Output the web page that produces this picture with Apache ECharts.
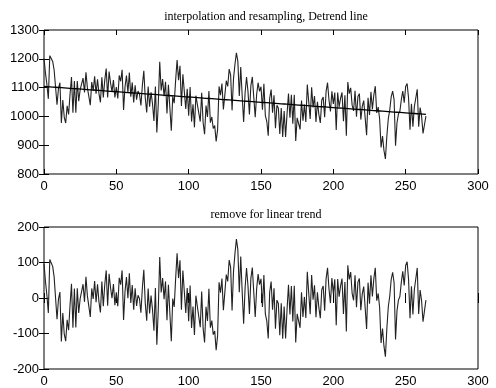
<!DOCTYPE html>
<html>
<head>
<meta charset="utf-8">
<script src="https://cdn.jsdelivr.net/npm/echarts@6/dist/echarts.min.js"></script>
<style>
  html, body { margin: 0; padding: 0; background: #fff; }
  #main { width: 496px; height: 388px; }
</style>
</head>
<body>
<div id="main"></div>
<script>
// resampled signal, one value per sample (x = 0..264)
const rawValues = [
  1201,1151,1111,1061,1211,1201,1191,1161,1101,1041,
  1097,1117,977,1057,997,977,1037,1007,1077,1137,
  1013,1123,1013,1123,1053,1093,1113,1133,1083,1153,
  1099,1069,1039,1119,1089,1139,1079,1129,1079,1049,
  1136,1066,1126,1166,1066,1156,1116,1086,1126,1066,
  1102,1062,1142,1122,1162,1022,1102,1142,1082,1152,
  1068,1118,1048,1108,1058,1088,1078,1038,1108,1158,
  1064,1014,1104,1034,1084,1044,984,1104,944,1044,
  1190,1090,1130,1070,1120,1010,1110,1030,950,1070,
  1046,1126,1196,1126,1176,1036,1146,1086,1026,1096,
  1002,1102,982,1042,962,1072,1042,1042,982,1082,
  978,938,1038,998,1088,978,998,958,968,913,
  954,1104,1074,1114,1024,1074,1124,1104,1164,1144,
  1021,1131,1181,1221,1191,1071,1171,1071,981,1081,
  1137,1087,1007,1107,1137,1067,997,1077,1117,1087,
  1103,1023,1113,1003,983,933,1063,1093,1013,1073,
  959,1039,1029,939,1029,929,1019,929,1009,1079,
  995,1075,975,1075,915,995,975,955,1055,985,
  1041,981,1111,1051,991,1101,1031,1071,981,1051,
  1007,977,1057,1067,997,1087,1117,1057,1017,1087,
  1043,1083,953,1083,1033,1063,1083,983,1073,933,
  1119,1079,1099,1039,1019,1089,999,1069,1079,989,
  1035,1055,995,935,1065,1005,1085,1025,1075,1105,
  1012,1032,992,892,932,882,852,932,992,1022,
  1068,1088,1058,898,978,1008,1018,1058,1088,1048,
  1104,1114,1064,954,1044,964,1034,1064,1094,964,
  1031,1001,941,971,1001
];

const titles = ['interpolation and resampling, Detrend line', 'remove for linear trend'];
const xTicks = [0, 300, 50];
const topTicks = [800, 1300, 100];
const bottomTicks = [-200, 200, 100];

// least squares line, as matlab's detrend does
function linearFit(ys) {
  let n = ys.length, sx = 0, sy = 0, sxx = 0, sxy = 0;
  for (let i = 0; i < n; i++) {
    sx += i; sy += ys[i]; sxx += i * i; sxy += i * ys[i];
  }
  let b = (n * sxy - sx * sy) / (n * sxx - sx * sx);
  let a = (sy - b * sx) / n;
  return ys.map(function (v, i) { return a + b * i; });
}

const trend = linearFit(rawValues);
const rawPts = rawValues.map(function (v, i) { return [i, v]; });
const trendPts = trend.map(function (v, i) { return [i, v]; });
const detrendPts = rawValues.map(function (v, i) { return [i, v - trend[i]]; });

const font = 'Liberation Sans';
const tick = { show: true, inside: true, length: 5, lineStyle: { color: '#000' } };
const plain = function (v) { return String(v); };

function xAx(grid, pos, labels) {
  return {
    type: 'value', gridIndex: grid, position: pos,
    min: xTicks[0], max: xTicks[1], interval: xTicks[2],
    axisLine: { show: false }, splitLine: { show: false },
    axisTick: tick,
    axisLabel: { show: labels, color: '#000', fontFamily: font, fontSize: 13, margin: 6, formatter: plain }
  };
}
function yAx(grid, pos, t, labels) {
  return {
    type: 'value', gridIndex: grid, position: pos,
    min: t[0], max: t[1], interval: t[2],
    axisLine: { show: false }, splitLine: { show: false },
    axisTick: tick,
    axisLabel: { show: labels, color: '#000', fontFamily: font, fontSize: 13, margin: 5, formatter: plain }
  };
}

let chart = echarts.init(document.getElementById('main'));
let option = {
  backgroundColor: '#fff',
  animation: false,
  title: [
    { text: titles[0], left: 261, top: 6, textAlign: 'center',
      textStyle: { fontFamily: 'Liberation Serif', fontSize: 12, fontWeight: 'normal', color: '#000' } },
    { text: titles[1], left: 261, top: 204, textAlign: 'center',
      textStyle: { fontFamily: 'Liberation Serif', fontSize: 12, fontWeight: 'normal', color: '#000' } }
  ],
  grid: [
    { left: 44, right: 18, top: 30, height: 144, show: true, borderColor: '#000', borderWidth: 1 },
    { left: 44, right: 18, top: 227, height: 143, show: true, borderColor: '#000', borderWidth: 1 }
  ],
  xAxis: [
    xAx(0, 'bottom', true), xAx(0, 'top', false),
    xAx(1, 'bottom', true), xAx(1, 'top', false)
  ],
  yAxis: [
    yAx(0, 'left', topTicks, true), yAx(0, 'right', topTicks, false),
    yAx(1, 'left', bottomTicks, true), yAx(1, 'right', bottomTicks, false)
  ],
  series: [
    { type: 'line', xAxisIndex: 0, yAxisIndex: 0, data: rawPts, showSymbol: false,
      lineStyle: { color: '#222', width: 1.1 } },
    { type: 'line', xAxisIndex: 0, yAxisIndex: 0, data: trendPts, showSymbol: false,
      lineStyle: { color: '#000', width: 1.3 } },
    { type: 'line', xAxisIndex: 2, yAxisIndex: 2, data: detrendPts, showSymbol: false,
      lineStyle: { color: '#222', width: 1.1 } }
  ]
};
chart.setOption(option);
</script>
</body>
</html>
